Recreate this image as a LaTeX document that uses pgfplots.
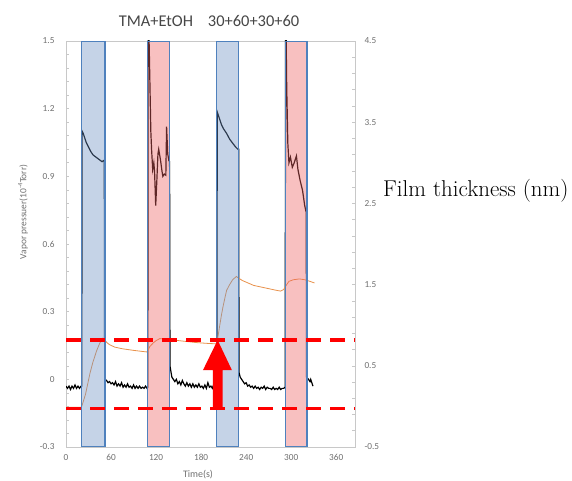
\documentclass[border=0pt]{standalone}
\usepackage{fontspec}
\usepackage{pgfplots}
\pgfplotsset{compat=1.18}
\newfontfamily\carlito{Carlito}
\definecolor{bandblue}{RGB}{110,145,195}
\definecolor{bandpink}{RGB}{238,98,98}
\definecolor{edgeblue}{RGB}{79,129,189}
\definecolor{thkorange}{RGB}{232,145,75}
\definecolor{labgray}{RGB}{112,112,112}
\definecolor{titlegray}{RGB}{70,70,70}
\definecolor{axgray}{RGB}{200,200,200}
\begin{document}
\begin{tikzpicture}
\useasboundingbox (-66bp,-34bp) rectangle (506bp,447bp);
% ---------- left axis: vapor pressure ----------
\begin{axis}[
  scale only axis, width=289bp, height=406bp,
  xmin=0, xmax=385, ymin=-0.3, ymax=1.5,
  xtick={0,60,120,180,240,300,360},
  ytick={-0.3,0,0.3,0.6,0.9,1.2,1.5},
  yticklabels={-0.3,0,0.3,0.6,0.9,1.2,1.5},
  xticklabels={0,60,120,180,240,300,360},
  minor y tick num=4,
  ytick pos=left, xtick pos=bottom, tick align=inside,
  major x tick style={draw=none},
  major tick length=3bp, minor tick length=3bp,
  tick style={draw=axgray, line width=0.6bp},
  axis line style={draw=axgray, line width=0.8bp},
  /pgf/number format/assume math mode=true,
  tick label style={font=\carlito\fontsize{9.3}{10}\selectfont, text=labgray},
  yticklabel style={xshift=-8bp},
  xticklabel style={yshift=-4bp},
]
\addplot[black, line width=1.2bp] coordinates {
(0,-0.03)(2,-0.04)(4,-0.03)(6,-0.045)(8,-0.03)(10,-0.04)(12,-0.025)(14,-0.04)(16,-0.03)(18,-0.04)(20,-0.03)(21,-0.03)
(21.5,1.10)(23,1.09)(25,1.07)(27,1.05)(30,1.03)(33,1.01)(36,0.995)(40,0.985)(44,0.975)(48,0.965)(50,0.97)(51,0.965)
(51.5,0.03)(52,0.0)(54,-0.005)(56,-0.015)(58,-0.01)(60,-0.02)(62,-0.015)(64,-0.025)(66,-0.01)(68,-0.03)(70,-0.02)(72,-0.03)(74,-0.015)(76,-0.035)(78,-0.025)(80,-0.035)(82,-0.02)(84,-0.035)(86,-0.03)(88,-0.04)(90,-0.025)(92,-0.04)(94,-0.03)(96,-0.04)(98,-0.03)(100,-0.04)(102,-0.035)(104,-0.04)(106,-0.03)(108,-0.04)(109,-0.035)
(109.5,1.6)(110,1.6)(111,1.45)(113,1.1)(114,1.02)(115.5,0.93)(117,0.96)(118,0.92)(119.5,0.77)(121,0.88)(122.5,1.0)(123.5,1.02)(125,0.99)(126,0.97)(128,0.92)(129,0.9)(131,0.91)(133,0.905)(134,1.12)(135.5,1.0)(137,0.97)(138,0.965)
(138.5,0.06)(140,0.03)(141,0.01)(143,0.0)(145,-0.01)(147,0.0)(149,-0.02)(151,-0.01)(153,-0.025)(155,-0.005)(157,-0.02)(159,-0.03)(161,-0.015)(163,-0.03)(165,-0.02)(167,-0.035)(169,-0.02)(171,-0.035)(173,-0.025)(175,-0.035)(177,-0.02)(179,-0.035)(181,-0.03)(183,-0.04)(185,-0.025)(187,-0.04)(189,-0.015)(191,-0.035)(193,-0.03)(195,-0.04)(197,-0.02)(199,-0.04)(201,-0.035)
(201.5,1.185)(204,1.16)(207,1.13)(210,1.11)(214,1.09)(218,1.065)(222,1.047)(226,1.03)(229,1.02)(230,1.02)
(230.5,0.03)(232,0.01)(234,0.0)(236,-0.01)(238,-0.02)(240,-0.015)(242,-0.03)(244,-0.025)(246,-0.035)(248,-0.03)(250,-0.04)(252,-0.03)(254,-0.04)(256,-0.035)(258,-0.045)(260,-0.035)(262,-0.04)(264,-0.03)(266,-0.045)(268,-0.035)(270,-0.04)(272,-0.04)(274,-0.045)(276,-0.035)(278,-0.045)(280,-0.04)(282,-0.045)(284,-0.035)(286,-0.045)(288,-0.04)(290,-0.04)(292,-0.035)
(292.5,1.6)(293,1.6)(294,1.3)(295.5,1.047)(297,0.96)(299,0.985)(301.5,0.94)(304,0.96)(307,0.99)(309,0.93)(312,0.88)(315,0.84)(318,0.77)(320,0.74)
(320.5,0.01)(323,0.0)(325,-0.01)(326,0.0)(329,-0.03)
};
\end{axis}
% ---------- right axis: film thickness ----------
\begin{axis}[
  scale only axis, width=289bp, height=406bp,
  xmin=0, xmax=385, ymin=-0.5, ymax=4.5,
  axis x line=none,
  axis y line*=right,
  ytick={-0.5,0.5,1.5,2.5,3.5,4.5},
  yticklabels={-0.5,0.5,1.5,2.5,3.5,4.5},
  minor y tick num=4,
  tick align=inside,
  major tick length=3bp, minor tick length=3bp,
  tick style={draw=axgray, line width=0.6bp},
  axis line style={draw=axgray, line width=0.8bp, -},
  /pgf/number format/assume math mode=true,
  tick label style={font=\carlito\fontsize{9.3}{10}\selectfont, text=labgray},
  yticklabel style={xshift=6bp},
]
\addplot[thkorange, line width=0.8bp] coordinates {
(0,-0.01)(5,-0.01)(10,-0.01)(15,-0.01)(20,-0.01)(21,0.0)(26,0.15)(32,0.41)(36,0.55)(41,0.69)(45,0.78)(49,0.84)(51,0.83)(54,0.79)(58,0.76)(65,0.73)(75,0.71)(90,0.69)(108,0.67)
(111.5,0.735)(116,0.78)(120,0.81)(125,0.835)(135,0.825)(150,0.81)(160,0.80)(175,0.785)(190,0.775)(201,0.77)
(204,0.95)(207,1.12)(209,1.22)(212,1.35)(214,1.43)(218,1.5)(222,1.56)(227,1.6)(230,1.58)(235,1.55)(240,1.53)(250,1.49)(260,1.47)(270,1.45)(280,1.43)(286,1.42)(290,1.44)(294,1.5)(297,1.54)(303,1.56)(311,1.57)(318,1.56)(325,1.54)(331,1.52)
};
% bands
\addplot[fill=bandblue, fill opacity=0.4, draw=edgeblue, line width=1.2bp] coordinates {(21,-0.5)(21,4.5)(52,4.5)(52,-0.5)} -- cycle;
\addplot[fill=bandpink, fill opacity=0.4, draw=edgeblue, line width=1.2bp] coordinates {(109,-0.5)(109,4.5)(138,4.5)(138,-0.5)} -- cycle;
\addplot[fill=bandblue, fill opacity=0.4, draw=edgeblue, line width=1.2bp] coordinates {(201,-0.5)(201,4.5)(230,4.5)(230,-0.5)} -- cycle;
\addplot[fill=bandpink, fill opacity=0.4, draw=edgeblue, line width=1.2bp] coordinates {(292,-0.5)(292,4.5)(321,4.5)(321,-0.5)} -- cycle;
% red dashed reference lines
\addplot[red, line width=3.2bp, dash pattern=on 15bp off 9bp] coordinates {(0,0.817)(385,0.817)};
\addplot[red, line width=3.2bp, dash pattern=on 15bp off 9bp] coordinates {(0,-0.025)(385,-0.025)};
% red arrow
\addplot[fill=red, draw=none] coordinates {(195.5,-0.025)(195.5,0.447)(182.5,0.447)(202,0.817)(221,0.447)(208.5,0.447)(208.5,-0.025)} -- cycle;
\end{axis}
% ---------- texts ----------
\node[anchor=base, text=titlegray, font=\carlito\fontsize{16.5}{18}\selectfont] at (143bp,420bp) {TMA+EtOH\hspace{15bp}30+60+30+60};
\node[rotate=90, text=labgray, font=\carlito\fontsize{9.5}{11}\selectfont] at (-43bp,235bp) {Vapor pressuer(10\textsuperscript{-4}Torr)};
\node[text=labgray, font=\carlito\fontsize{10}{12}\selectfont] at (132bp,-28bp) {Time(s)};
\node[anchor=base west, inner sep=0pt, font=\fontsize{23}{27}\selectfont] at (317bp,250bp) {Film thickness (nm)};
\end{tikzpicture}
\end{document}
